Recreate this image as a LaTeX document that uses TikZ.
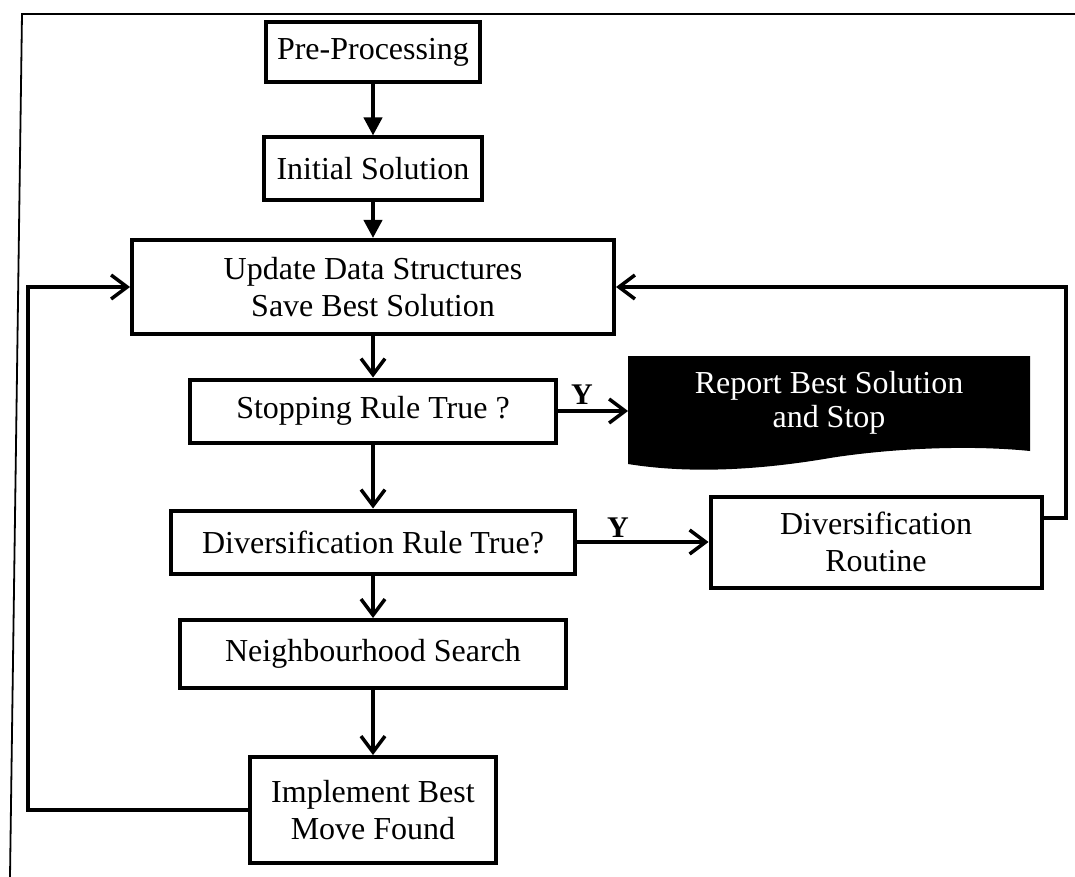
\documentclass[tikz,border=0pt]{standalone}
\usepackage{fontspec}
\setmainfont{Liberation Serif}
\usetikzlibrary{arrows.meta,calc}

\begin{document}
\begin{tikzpicture}[x=1pt,y=-1pt,
  box/.style={draw,line width=4pt,inner sep=0pt,align=center,
    font=\fontsize{32}{37}\selectfont},
  flow/.style={line width=4pt,
    -{Straight Barb[length=16pt,width=24pt,line width=3.5pt]}},
  feed/.style={line width=4pt,-{Triangle[length=18pt,width=18pt]}},
  lbl/.style={font=\fontsize{30}{30}\selectfont\bfseries,inner sep=0pt}]
\useasboundingbox (0,0) rectangle (1075,877);

% page frame
\draw[line width=1.8pt] (1075,14) -- (22,14) -- (10,877);

% main column
\node[box,minimum width=214pt,minimum height=60pt] (pre) at (373,52) {Pre-Processing};
\node[box,minimum width=218pt,minimum height=63pt] (init) at (373,169) {Initial Solution};
\node[box,minimum width=482pt,minimum height=94pt] (upd) at (373,287)
  {Update Data Structures\\Save Best Solution};
\node[box,minimum width=366pt,minimum height=63pt] (stop) at (373,411) {Stopping Rule True ?};
\node[box,minimum width=404pt,minimum height=63pt] (div) at (373,542) {Diversification Rule True?};
\node[box,minimum width=386pt,minimum height=68pt] (neigh) at (373,654) {Neighbourhood Search};
\node[box,minimum width=246pt,minimum height=106pt] (impl) at (373,810)
  {Implement Best\\Move Found};

% side boxes
\node[box,minimum width=331pt,minimum height=91pt] (routine) at (876,542)
  {Diversification\\Routine};

\fill[black] (628,356) -- (1030,356) -- (1030,451)
  .. controls (960,444) and (880,450) .. (830,458)
  .. controls (760,470) and (690,474) .. (628,464) -- cycle;
\node[text=white,align=center,font=\fontsize{32}{34}\selectfont] (doc) at (829,403)
  {Report Best Solution\\and Stop};
\coordinate (docL) at (628,0);

% connectors
\draw[feed] (pre) -- (init);
\draw[feed] (init) -- (upd);
\draw[flow] (upd) -- (stop);
\draw[flow] (stop) -- (div);
\draw[flow] (div) -- (neigh);
\draw[flow] (neigh) -- (impl);

\draw[flow] (stop.east) -- (stop.east -| docL);
\node[lbl] (y1) at (582,395) {Y};
\draw[flow] (div.east) -- (routine.west);
\node[lbl] (y2) at (618,528) {Y};

\coordinate (rl) at (1066,0);
\coordinate (ll) at (28,0);
\draw[flow] ($(routine.north east)!0.25!(routine.south east)$) -| (rl |- upd.east) -- (upd.east);
\draw[flow] (impl.west) -| (ll |- upd.west) -- (upd.west);
\end{tikzpicture}
\end{document}
